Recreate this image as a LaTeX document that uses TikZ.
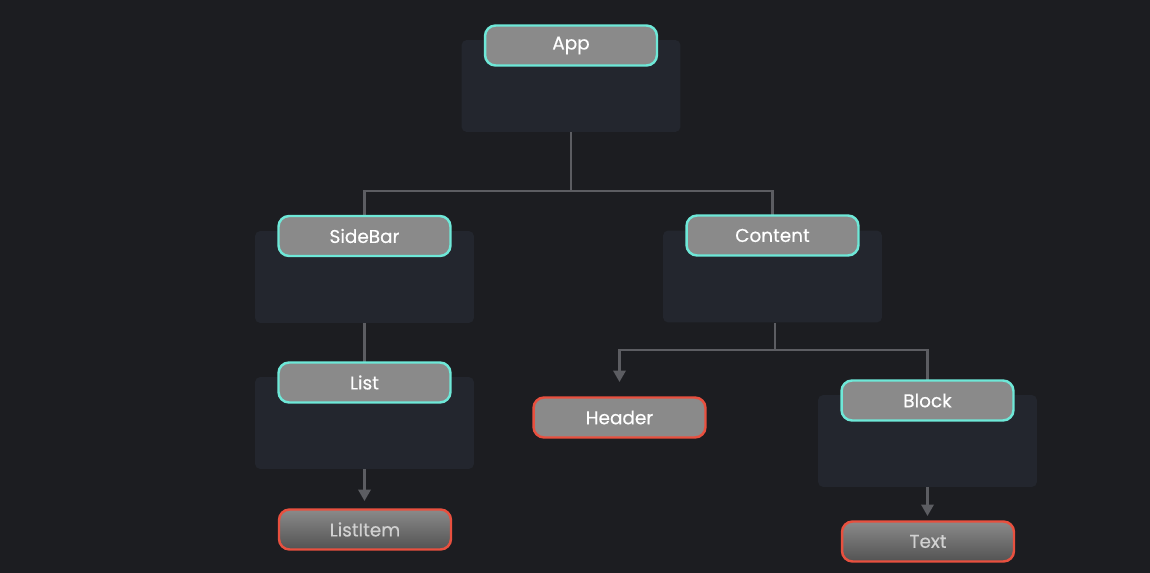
\documentclass[tikz,border=0pt]{standalone}
\usepackage{fontspec}
\setmainfont{Poppins}
\usetikzlibrary{arrows.meta}
\definecolor{bgdark}{HTML}{1C1D21}
\definecolor{panelfill}{HTML}{23262E}
\definecolor{pillfill}{HTML}{8A8A8A}
\definecolor{cyanline}{HTML}{6EE8D8}
\definecolor{redline}{HTML}{E8503F}
\definecolor{wire}{HTML}{5C5D62}
\tikzset{
  panel/.style={fill=panelfill, rounded corners=3pt,
    minimum width=4.38cm, minimum height=1.84cm, inner sep=0pt},
  pill/.style={fill=pillfill, rounded corners=6pt, line width=1.4pt,
    minimum width=3.44cm, minimum height=0.8cm, inner sep=0pt,
    text=white, font=\fontsize{10.5}{12}\selectfont\addfontfeatures{FakeBold=0.4}},
  parent/.style={pill, draw=cyanline},
  leaf/.style={pill, draw=redline},
  faded/.style={leaf, top color=pillfill, bottom color=pillfill!60!black,
    text=white!82!black},
  wire/.style={draw=wire, line width=1.4pt},
  tip/.style={wire, -{Triangle[width=7pt,length=6.5pt]}}
}
\begin{document}
\begin{tikzpicture}[x=0.02cm, y=-0.02cm]
  \fill[bgdark] (0,0) rectangle (1150,573);
  \useasboundingbox (0,0) rectangle (1150,573);
  % panels
  \node[panel] (appP) at (571,86) {};
  \node[panel] (sidebarP) at (364.5,277) {};
  \node[panel] (contentP) at (772.5,276.5) {};
  \node[panel] (listP) at (364.5,423) {};
  \node[panel] (blockP) at (927.5,441) {};
  % junctions
  \coordinate (appJ) at (571,191);
  \coordinate (contentJ) at (775,350);
  % connectors
  \begin{scope}
    \draw[wire] (appP.south) -- (appJ);
    \draw[wire] (364.5,218) |- (appJ) -| (772.5,216);
    \draw[wire] (sidebarP.south) -- (364.5,362);
    \draw[tip] (listP.south) -- (364.5,501);
    \draw[wire] (contentP.south -| contentJ) -- (contentJ);
    \draw[tip] (contentJ) -| (619.5,382);
    \draw[wire] (contentJ) -| (927.5,381);
    \draw[tip] (blockP.south) -- (927.5,516);
  \end{scope}
  % labels
  \node[parent] (app) at (571,45.5) {App};
  \node[parent] (sidebar) at (364.5,236) {SideBar};
  \node[parent] (content) at (772.5,235.5) {Content};
  \node[parent] (list) at (364.5,382.5) {List};
  \node[leaf] (header) at (619.5,417.5) {Header};
  \node[parent] (block) at (927.5,400.5) {Block};
  \node[faded] (listitem) at (365,529.5) {ListItem};
  \node[faded] (text) at (928,541.5) {Text};
\end{tikzpicture}
\end{document}
